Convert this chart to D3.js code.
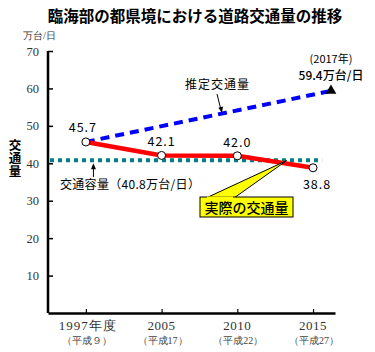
<!DOCTYPE html>
<html>
<head>
<meta charset="utf-8">
<script src="https://cdn.jsdelivr.net/npm/d3@7"></script>
<style>
  body { margin: 0; background: #fff; }
  svg { display: block; }
</style>
</head>
<body>
<svg class="chart" width="375" height="352"></svg>
<script>

// data
let years = ["1997年度", "2005", "2010", "2015"];
let eras = ["（平成９）", "（平成17）", "（平成22）", "（平成27）"];
let actual = [45.7, 42.1, 42.0, 38.8];
let actualLabels = ["45.7", "42.1", "42.0", "38.8"];
let estimate = [{ pos: 0, value: 45.7 }, { pos: 3.25, value: 59.4 }];
let capacity = 40.8;
let yTicks = [10, 20, 30, 40, 50, 60, 70];

let svg = d3.select("body").select(".chart");

let serif = "'Liberation Serif', 'DejaVu Serif', serif";
let gothic = "'Noto Sans CJK JP', 'Noto Sans', sans-serif";

let margin = { top: 51, left: 48, bottom: 39, right: 40 };

// x is positional: 1997 is not to scale, so each period gets an index
let x = d3.scaleLinear()
  .domain([-0.5, 3.29])
  .range([margin.left, 375 - margin.right]);

let y = d3.scaleLinear()
  .domain([0, 70])
  .range([352 - margin.bottom, margin.top]);

// title
svg.append("text")
  .attr("x", 195)
  .attr("y", 22)
  .attr("text-anchor", "middle")
  .style("font-family", gothic)
  .style("font-weight", "bold")
  .style("font-size", "15.5px")
  .text("臨海部の都県境における道路交通量の推移");

// unit
svg.append("text")
  .attr("x", 23)
  .attr("y", 39)
  .style("font-family", serif)
  .style("font-size", "10px")
  .style("fill", "#333")
  .text("万台/日");

// y axis label, written vertically
svg.append("text")
  .attr("x", 15)
  .attr("y", 139)
  .style("writing-mode", "vertical-rl")
  .style("font-family", gothic)
  .style("font-weight", "bold")
  .style("font-size", "12.5px")
  .style("letter-spacing", "0.5px")
  .text("交通量");

// axes
let yAxis = d3.axisLeft(y).tickValues(yTicks).tickSize(-5).tickPadding(9).tickSizeOuter(0);
let yGroup = svg.append("g").attr("transform", translate(margin.left, 0)).call(yAxis);
yGroup.select(".domain").attr("stroke-width", 2.5).attr("d", `M0,${y(70)}V${y(0)}`);
yGroup.selectAll(".tick line").attr("stroke-width", 1.5);
yGroup.selectAll(".tick text")
  .style("font-family", serif)
  .style("font-size", "12.5px")
  .style("fill", "#333");

let xAxis = d3.axisBottom(x).tickValues([0, 1, 2, 3]).tickSize(-4).tickFormat("").tickSizeOuter(0);
let xGroup = svg.append("g").attr("transform", translate(0, y(0))).call(xAxis);
xGroup.select(".domain").attr("stroke-width", 2.5);
xGroup.selectAll(".tick line").attr("stroke-width", 1.2);

// x tick labels
svg.selectAll(".year")
  .data(years)
  .join("text")
  .attr("class", "year")
  .attr("x", (d, i) => x(i) + (i == 0 ? 2 : 0))
  .attr("y", y(0) + 17)
  .attr("text-anchor", "middle")
  .style("font-family", serif)
  .style("font-size", "13px")
  .style("letter-spacing", (d, i) => i == 0 ? "1px" : "0.5px")
  .style("fill", "#333")
  .text(d => d);

svg.selectAll(".era")
  .data(eras)
  .join("text")
  .attr("class", "era")
  .attr("x", (d, i) => x(i) + 1)
  .attr("y", y(0) + 31)
  .attr("text-anchor", "middle")
  .style("font-family", serif)
  .style("font-size", "10px")
  .style("fill", "#444")
  .text(d => d);

// capacity dotted line
svg.append("line")
  .attr("x1", margin.left + 2)
  .attr("x2", x(3.12))
  .attr("y1", y(capacity))
  .attr("y2", y(capacity))
  .attr("stroke", "#008080")
  .attr("stroke-width", 4)
  .attr("stroke-dasharray", "4,4");

// estimate dashed line
svg.append("path")
  .datum(estimate)
  .attr("fill", "none")
  .attr("stroke", "#0000ff")
  .attr("stroke-width", 4)
  .attr("stroke-dasharray", "9,6")
  .attr("d", d3.line().x(d => x(d.pos)).y(d => y(d.value)));

// triangle at 2017
let last = estimate[estimate.length - 1];
svg.append("path")
  .attr("d", d3.symbol().type(d3.symbolTriangle).size(50)())
  .attr("transform", translate(x(last.pos) - 1, y(last.value)))
  .attr("fill", "#000");

// actual red line
svg.append("path")
  .datum(actual)
  .attr("fill", "none")
  .attr("stroke", "#ff0000")
  .attr("stroke-width", 4.5)
  .attr("d", d3.line().x((d, i) => x(i)).y(d => y(d)));

svg.selectAll(".pt")
  .data(actual)
  .join("circle")
  .attr("class", "pt")
  .attr("cx", (d, i) => x(i))
  .attr("cy", d => y(d))
  .attr("r", 4)
  .attr("fill", "#fff")
  .attr("stroke", "#000")
  .attr("stroke-width", 1);

// value labels
let labelOffsets = [[-3, -10], [0, -9], [0, -9], [4, 21]];
svg.selectAll(".val")
  .data(actual)
  .join("text")
  .attr("class", "val")
  .attr("x", (d, i) => x(i) + labelOffsets[i][0])
  .attr("y", (d, i) => y(d) + labelOffsets[i][1])
  .attr("text-anchor", "middle")
  .style("font-family", gothic)
  .style("font-size", "12.5px")
  .style("letter-spacing", "1px")
  .text((d, i) => actualLabels[i]);

// capacity annotation
svg.append("text")
  .attr("x", 60)
  .attr("y", 189)
  .style("font-family", gothic)
  .style("font-size", "12px")
  .style("letter-spacing", "0.3px")
  .text("交通容量（40.8万台/日）");

let arrowX = x(0.1);
svg.append("line")
  .attr("x1", arrowX).attr("x2", arrowX)
  .attr("y1", 177).attr("y2", y(capacity) + 5)
  .attr("stroke", "#000").attr("stroke-width", 1);
svg.append("path")
  .attr("d", `M${arrowX},${y(capacity) + 3}l-2.5,6h5z`)
  .attr("fill", "#000");

// estimate annotation
svg.append("text")
  .attr("x", 185)
  .attr("y", 89)
  .style("font-family", gothic)
  .style("font-size", "12px")
  .style("letter-spacing", "1px")
  .text("推定交通量");
svg.append("line")
  .attr("x1", 217).attr("y1", 94)
  .attr("x2", 221).attr("y2", 110)
  .attr("stroke", "#000").attr("stroke-width", 1);
svg.append("path")
  .attr("d", "M222,113l-3.6,-5.2l4.6,-1.2z")
  .attr("fill", "#000");

// 2017 annotation
svg.append("text")
  .attr("x", 331)
  .attr("y", 63)
  .attr("text-anchor", "middle")
  .style("font-family", gothic)
  .style("font-size", "11px")
  .text("(2017年)");
svg.append("text")
  .attr("x", 331)
  .attr("y", 80)
  .attr("text-anchor", "middle")
  .style("font-family", gothic)
  .style("font-size", "12px")
  .style("font-weight", "500")
  .text("59.4万台/日");

// callout for actual volume
svg.append("path")
  .attr("d", `M206,198L${x(2.65)},${y(40.7)}L234,198Z`)
  .attr("fill", "#ffff00")
  .attr("stroke", "#000")
  .attr("stroke-width", 1);
svg.append("rect")
  .attr("x", 200).attr("y", 197)
  .attr("width", 93).attr("height", 20)
  .attr("fill", "#ffff00")
  .attr("stroke", "#000")
  .attr("stroke-width", 1);
svg.append("rect")
  .attr("x", 207).attr("y", 196.5)
  .attr("width", 26).attr("height", 1.5)
  .attr("fill", "#ffff00");
svg.append("text")
  .attr("x", 246.5)
  .attr("y", 212.5)
  .attr("text-anchor", "middle")
  .style("font-family", gothic)
  .style("font-size", "14px")
  .style("font-weight", "500")
  .text("実際の交通量");

function translate(x, y) {
  return 'translate(' + x + ',' + y + ')';
}
</script>
</body>
</html>
